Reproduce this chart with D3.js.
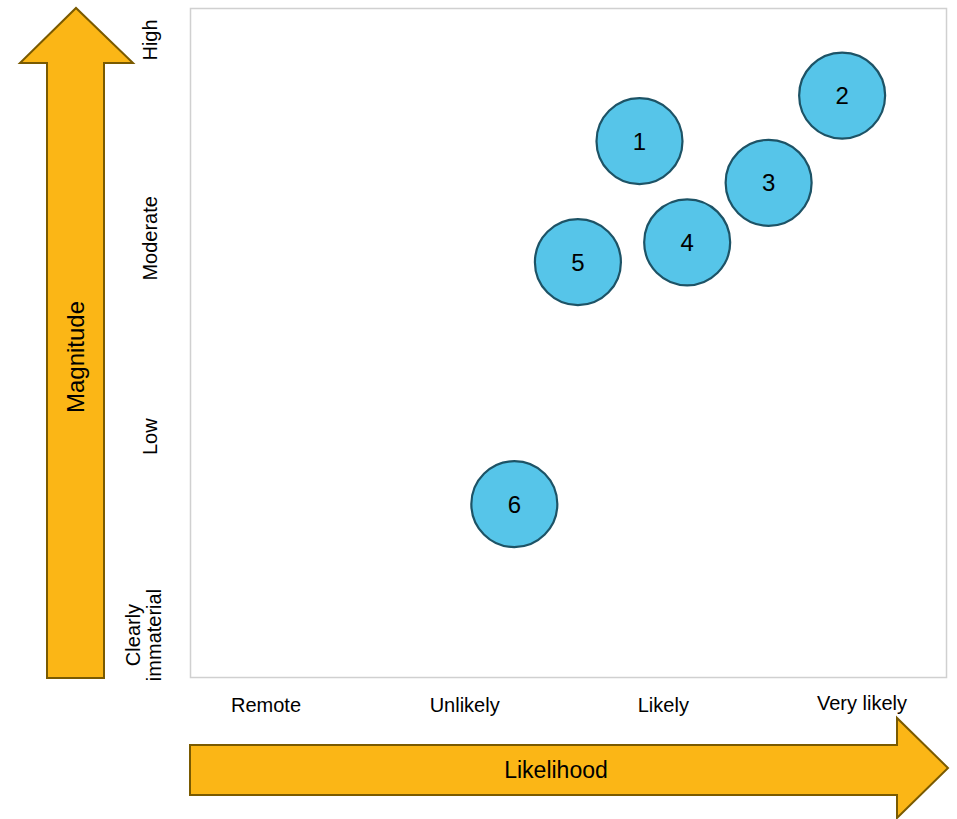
<!DOCTYPE html>
<html>
<head>
<meta charset="utf-8">
<script src="https://cdn.jsdelivr.net/npm/d3@7"></script>
<style>
  body { margin: 0; background: #fff; }
  svg { display: block; font-family: "Liberation Sans", Arial, sans-serif; }
</style>
</head>
<body>
<svg id="chart" width="957" height="819"></svg>
<script>
// categories
const likelihoodLabels = ["Remote", "Unlikely", "Likely", "Very likely"];
const magnitudeLabels = [["Clearly", "immaterial"], ["Low"], ["Moderate"], ["High"]];

// risk items
const ids = ["1", "2", "3", "4", "5", "6"];
const likelihood = [1.88, 2.90, 2.53, 2.12, 1.57, 1.25];
const magnitude = [2.49, 2.72, 2.28, 1.98, 1.88, 0.66];

const svg = d3.select("#chart");

const x = d3.scaleLinear().domain([0, 3]).range([266, 862]);
const y = d3.scaleLinear().domain([0, 3]).range([635, 40]);

// plot frame
svg.append("rect")
  .attr("x", 190.5).attr("y", 8.5)
  .attr("width", 756).attr("height", 669)
  .attr("fill", "none").attr("stroke", "#d0d0d0").attr("stroke-width", 1.5);

// arrows
const arrowFill = "#FBB616", arrowStroke = "#7A5A00";

const vArrow = [[47, 678], [47, 63], [20, 63], [76, 8], [133, 63], [104, 63], [104, 678]];
svg.append("path")
  .attr("d", d3.line()(vArrow) + "Z")
  .attr("fill", arrowFill).attr("stroke", arrowStroke).attr("stroke-width", 2);

const hArrow = [[190, 745], [897, 745], [897, 718], [948, 768], [897, 818], [897, 795], [190, 795]];
svg.append("path")
  .attr("d", d3.line()(hArrow) + "Z")
  .attr("fill", arrowFill).attr("stroke", arrowStroke).attr("stroke-width", 2);

svg.append("text")
  .attr("transform", "translate(84,357) rotate(-90)")
  .attr("text-anchor", "middle")
  .attr("font-size", 24)
  .text("Magnitude");

svg.append("text")
  .attr("x", 556).attr("y", 778)
  .attr("text-anchor", "middle")
  .attr("font-size", 23)
  .text("Likelihood");

// x category labels
svg.append("g").selectAll("text")
  .data(likelihoodLabels)
  .join("text")
  .attr("x", (d, i) => x(i))
  .attr("y", (d, i) => i === 3 ? 710 : 712)
  .attr("text-anchor", "middle")
  .attr("font-size", 20)
  .text(d => d);

// y category labels
const yl = svg.append("g").selectAll("g")
  .data(magnitudeLabels)
  .join("g")
  .attr("transform", (d, i) => `translate(${d.length > 1 ? 140 : 157},${y(i)}) rotate(-90)`);
yl.selectAll("text")
  .data(d => d.map((t, j) => ({ t, j, n: d.length })))
  .join("text")
  .attr("x", 0)
  .attr("y", d => d.j * 21)
  .attr("text-anchor", "middle")
  .attr("font-size", 20)
  .text(d => d.t);

// bubbles
const pts = ids.map((id, i) => ({ id, lx: likelihood[i], my: magnitude[i] }));
const g = svg.append("g").selectAll("g")
  .data(pts)
  .join("g")
  .attr("transform", d => `translate(${x(d.lx)},${y(d.my)})`);
g.append("circle")
  .attr("r", 43)
  .attr("fill", "#56C5E9")
  .attr("stroke", "#1D5366")
  .attr("stroke-width", 2.2);
g.append("text")
  .attr("text-anchor", "middle")
  .attr("dy", "0.36em")
  .attr("font-size", 24)
  .text(d => d.id);
</script>
</body>
</html>
